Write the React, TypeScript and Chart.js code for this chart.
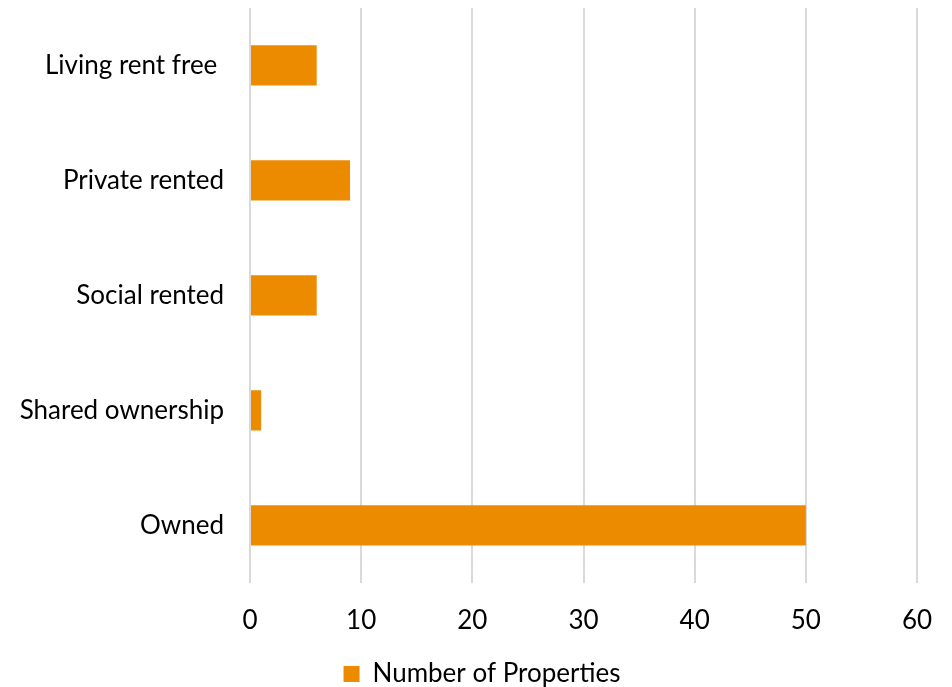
import React, { useEffect, useRef } from "react";
import { Chart, registerables } from "chart.js";

Chart.register(...registerables);

const categories = ["Living rent free ", "Private rented", "Social rented", "Shared ownership", "Owned"];
const values = [6, 9, 6, 1, 50];
const seriesName = "Number of Properties";
const barColor = "#ED8B00";

export default function App() {
  const ref = useRef<HTMLCanvasElement>(null);
  useEffect(() => {
    if (!ref.current) return;
    const font = "Lato, sans-serif";
    const chart = new Chart(ref.current, {
      type: "bar",
      data: {
        labels: categories,
        datasets: [
          {
            label: seriesName,
            data: values,
            backgroundColor: barColor,
            borderWidth: 0,
            barPercentage: 0.35,
            categoryPercentage: 1,
          },
        ],
      },
      options: {
        indexAxis: "y",
        animation: false,
        responsive: true,
        maintainAspectRatio: false,
        layout: { padding: { top: 8, right: 0, left: 12, bottom: -10 } },
        plugins: {
          legend: {
            position: "bottom",
            labels: {
              boxWidth: 16,
              boxHeight: 16,
              color: "#000",
              font: { family: font, size: 26 },
              padding: 3,
            },
          },
          tooltip: { enabled: false },
        },
        scales: {
          x: {
            min: 0,
            max: 60,
            ticks: { stepSize: 10, color: "#000", font: { family: font, size: 26 }, padding: 22 },
            grid: { color: "#d9d9d9", lineWidth: 2, drawTicks: false },
            border: { display: false },
            afterFit: (s: any) => {
              s.paddingRight = 35;
            },
          },
          y: {
            ticks: { color: "#000", font: { family: font, size: 26 }, padding: 26 },
            grid: { display: false, drawTicks: false },
            border: { display: false },
            afterFit: (s: any) => {
              s.width = 238;
              s.paddingTop = 0;
              s.paddingBottom = 0;
            },
          },
        },
      },
    });
    return () => chart.destroy();
  }, []);
  return (
    <div style={{ position: "fixed", left: 0, top: 0, width: 952, height: 687, background: "#fff" }}>
      <canvas ref={ref} />
    </div>
  );
}
